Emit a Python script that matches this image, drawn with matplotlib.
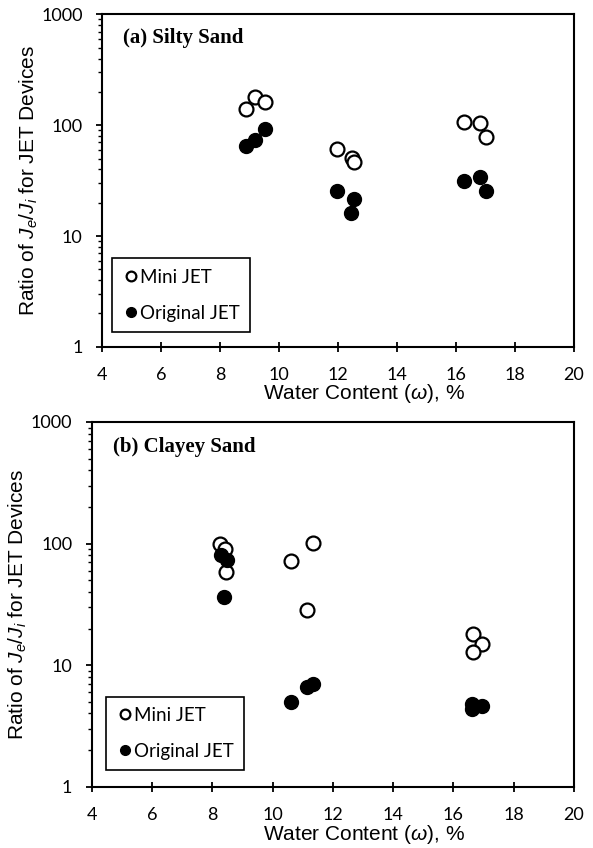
import matplotlib
matplotlib.use("Agg")
import matplotlib.pyplot as plt
from matplotlib.ticker import LogLocator, NullFormatter, FixedLocator

plt.rcParams['mathtext.fontset'] = 'custom'
plt.rcParams['mathtext.rm'] = 'Liberation Sans'
plt.rcParams['mathtext.it'] = 'Liberation Sans:italic'

# (a) Silty Sand
a_mini_x = [8.87, 9.20, 9.53, 11.98, 12.46, 12.54, 16.28, 16.81, 17.02]
a_mini_y = [140, 178, 161, 61, 51, 47, 106, 104, 78]
a_orig_x = [8.87, 9.20, 9.53, 11.98, 12.54, 12.44, 16.28, 16.81, 17.02]
a_orig_y = [65, 73, 92, 25.6, 21.5, 16.3, 31.5, 33.8, 25.4]

# (b) Clayey Sand
b_mini_x = [8.26, 8.42, 8.46, 10.60, 11.35, 11.13, 16.64, 16.94, 16.64]
b_mini_y = [99, 91, 58.5, 72, 101, 28.3, 17.9, 14.9, 12.7]
b_orig_x = [8.28, 8.48, 8.40, 10.60, 11.13, 11.35, 16.61, 16.94, 16.61]
b_orig_y = [80, 73, 36.5, 5.0, 6.6, 7.0, 4.8, 4.6, 4.35]

xticks = [4, 6, 8, 10, 12, 14, 16, 18, 20]
yticks = [1, 10, 100, 1000]
titles = ['(a) Silty Sand', '(b) Clayey Sand']
legend_labels = ['Mini JET', 'Original JET']

fig = plt.figure(figsize=(5.93, 8.48), dpi=100)
ax1 = fig.add_axes([0.172, 0.591, 0.796, 0.392])
ax2 = fig.add_axes([0.1546, 0.0723, 0.8134, 0.4301])

tick_font = 'Lato'
label_font = 'Liberation Sans'

panels = [
    (ax1, a_mini_x, a_mini_y, a_orig_x, a_orig_y, titles[0], (0.021, 0.045), (0.555, -0.107)),
    (ax2, b_mini_x, b_mini_y, b_orig_x, b_orig_y, titles[1], (0.03, 0.046), (0.565, -0.1)),
]

for ax, mx, my, ox, oy, title, leg_anchor, xlab_pos in panels:
    ax.plot(mx, my, 'o', ls='none', ms=10, mfc='white', mec='black', mew=1.6,
            label=legend_labels[0], zorder=3)
    ax.plot(ox, oy, 'o', ls='none', ms=10, mfc='black', mec='black', mew=1.0,
            label=legend_labels[1], zorder=3)
    ax.set_yscale('log')
    ax.set_xlim(4, 20)
    ax.set_ylim(1, 1000)
    ax.xaxis.set_major_locator(FixedLocator(xticks))
    ax.yaxis.set_major_locator(FixedLocator(yticks))
    ax.set_xticklabels([str(t) for t in xticks], fontfamily=tick_font, fontsize=13)
    ax.set_yticklabels([str(t) for t in yticks], fontfamily=tick_font, fontsize=13)
    ax.yaxis.set_minor_locator(LogLocator(base=10, subs=range(2, 10), numticks=20))
    ax.yaxis.set_minor_formatter(NullFormatter())
    ax.tick_params(axis='x', which='major', direction='inout', length=7, width=1.3, pad=11)
    ax.tick_params(axis='y', which='major', direction='out', length=4.5, width=1.3, pad=9.5)
    ax.tick_params(axis='y', which='minor', direction='out', length=3, width=1.0)
    for s in ax.spines.values():
        s.set_linewidth(1.5)
    ax.set_ylabel(r'Ratio of $J_e$/$J_i$ for JET Devices', fontfamily=label_font,
                  fontsize=15, labelpad=1)
    ax.set_xlabel(r'Water Content ($\omega$), %', fontfamily=label_font, fontsize=15)
    ax.xaxis.set_label_coords(*xlab_pos)
    ax.xaxis.label.set_va('top')
    ax.text(0.045, 0.96, title, transform=ax.transAxes, fontfamily='Liberation Serif',
            fontweight='bold', fontsize=15, va='top', ha='left')
    leg = ax.legend(loc='lower left', bbox_to_anchor=leg_anchor, frameon=True, fancybox=False,
                    edgecolor='black', framealpha=1, borderpad=0.55, handletextpad=0.05,
                    handlelength=0.9, labelspacing=1.0, markerscale=0.7,
                    borderaxespad=0.0,
                    prop={'family': tick_font, 'size': 13.5})
    leg.get_frame().set_linewidth(1.2)

fig.savefig('out.png', dpi=100)
